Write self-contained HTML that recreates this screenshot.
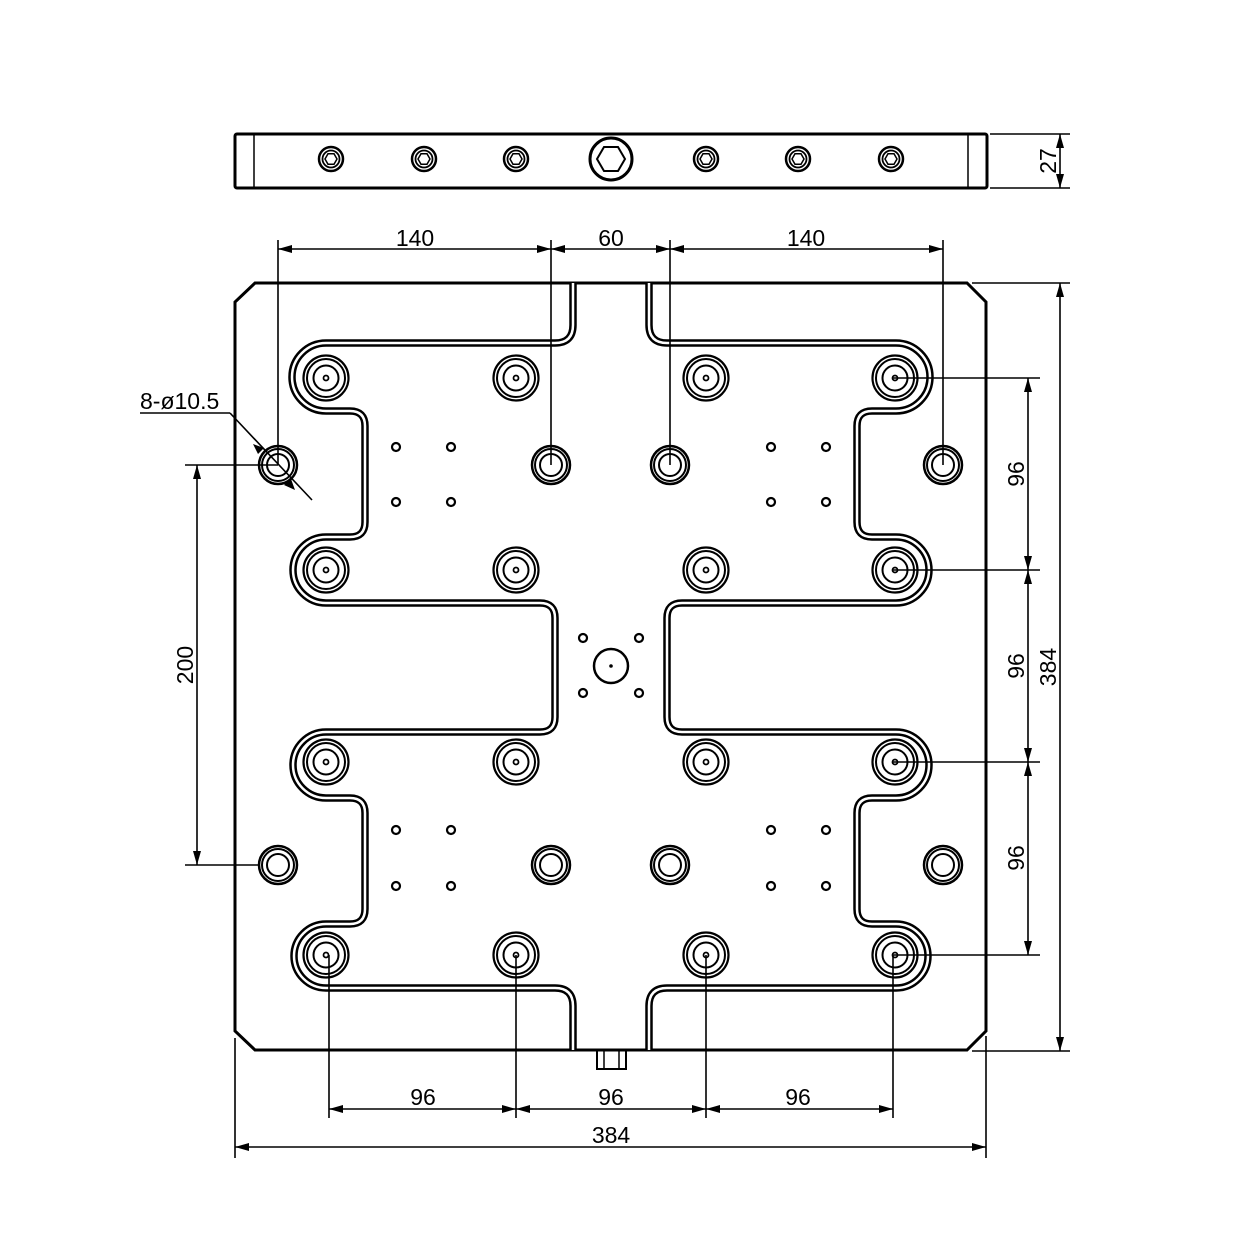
<!DOCTYPE html>
<html><head><meta charset="utf-8"><style>body{margin:0;background:#fff}svg{display:block}text{font-family:"Liberation Sans",sans-serif;font-size:23px;fill:#000}</style></head>
<body>
<svg width="1250" height="1250" viewBox="0 0 1250 1250" xmlns="http://www.w3.org/2000/svg">
<defs>
<marker id="a" viewBox="0 0 14 8" refX="14" refY="4" markerWidth="14" markerHeight="8" markerUnits="userSpaceOnUse" orient="auto-start-reverse"><path d="M0,0L14,4L0,8z" fill="#000"/></marker>
<g id="pad"><circle r="22.5" fill="none" stroke="#000" stroke-width="2.2"/><circle r="19" fill="none" stroke="#000" stroke-width="2"/><circle r="12.5" fill="none" stroke="#000" stroke-width="2"/><circle r="2.5" fill="none" stroke="#000" stroke-width="1.8"/></g>
<g id="loc"><circle r="19" fill="none" stroke="#000" stroke-width="2.5"/><circle r="16" fill="none" stroke="#000" stroke-width="2"/><circle r="11" fill="none" stroke="#000" stroke-width="2"/></g>
<g id="sh"><circle r="4" fill="none" stroke="#000" stroke-width="2.2"/></g>
<g id="sv"><circle r="12" fill="none" stroke="#000" stroke-width="2.5"/><circle r="8.5" fill="none" stroke="#000" stroke-width="1.8"/><polygon points="-6,0 -3,-5.2 3,-5.2 6,0 3,5.2 -3,5.2" fill="none" stroke="#000" stroke-width="1.5"/></g>
<path id="gr" d="M573,283 V325 Q573,343 555,343 H326 A33,33 0 0 0 326,411 H350 Q365,411 365,426 V522 Q365,537 350,537 H326 A33,33 0 0 0 326,603 H540 Q555,603 555,618 V717 Q555,732 540,732 H326 A33,33 0 0 0 326,798 H350 Q365,798 365,813 V909 Q365,924 350,924 H326 A32,32 0 0 0 326,988 H555 Q573,988 573,1006 V1050" fill="none"/>
</defs>

<rect x="235" y="134" width="752" height="54" rx="2" fill="none" stroke="#000" stroke-width="3"/>
<line x1="254" y1="134" x2="254" y2="188" stroke="#000" stroke-width="1.5"/>
<line x1="968" y1="134" x2="968" y2="188" stroke="#000" stroke-width="1.5"/>
<use href="#sv" x="331" y="159"/><use href="#sv" x="424" y="159"/><use href="#sv" x="516" y="159"/>
<use href="#sv" x="706" y="159"/><use href="#sv" x="798" y="159"/><use href="#sv" x="891" y="159"/>
<circle cx="611" cy="159" r="21" fill="none" stroke="#000" stroke-width="3"/>
<polygon points="597,159 604,147 618,147 625,159 618,171 604,171" fill="none" stroke="#000" stroke-width="2"/>

<path d="M255,283 H967 L986,302 V1031 L967,1050 H255 L235,1031 V302 Z" fill="none" stroke="#000" stroke-width="3"/>
<g stroke="#000" stroke-width="7.5"><use href="#gr"/><use href="#gr" transform="translate(1222,0) scale(-1,1)"/></g>
<g stroke="#fff" stroke-width="2.5"><use href="#gr"/><use href="#gr" transform="translate(1222,0) scale(-1,1)"/></g>
<rect x="597" y="1050" width="29" height="19" fill="none" stroke="#000" stroke-width="2"/>
<line x1="604" y1="1050" x2="604" y2="1069" stroke="#000" stroke-width="1.5"/><line x1="619" y1="1050" x2="619" y2="1069" stroke="#000" stroke-width="1.5"/>

<g>
<use href="#pad" x="326" y="378"/><use href="#pad" x="516" y="378"/><use href="#pad" x="706" y="378"/><use href="#pad" x="895" y="378"/>
<use href="#pad" x="326" y="570"/><use href="#pad" x="516" y="570"/><use href="#pad" x="706" y="570"/><use href="#pad" x="895" y="570"/>
<use href="#pad" x="326" y="762"/><use href="#pad" x="516" y="762"/><use href="#pad" x="706" y="762"/><use href="#pad" x="895" y="762"/>
<use href="#pad" x="326" y="955"/><use href="#pad" x="516" y="955"/><use href="#pad" x="706" y="955"/><use href="#pad" x="895" y="955"/>
<use href="#loc" x="278" y="465"/><use href="#loc" x="551" y="465"/><use href="#loc" x="670" y="465"/><use href="#loc" x="943" y="465"/>
<use href="#loc" x="278" y="865"/><use href="#loc" x="551" y="865"/><use href="#loc" x="670" y="865"/><use href="#loc" x="943" y="865"/>
<use href="#sh" x="396" y="447"/><use href="#sh" x="451" y="447"/><use href="#sh" x="396" y="502"/><use href="#sh" x="451" y="502"/>
<use href="#sh" x="771" y="447"/><use href="#sh" x="826" y="447"/><use href="#sh" x="771" y="502"/><use href="#sh" x="826" y="502"/>
<use href="#sh" x="396" y="830"/><use href="#sh" x="451" y="830"/><use href="#sh" x="396" y="886"/><use href="#sh" x="451" y="886"/>
<use href="#sh" x="771" y="830"/><use href="#sh" x="826" y="830"/><use href="#sh" x="771" y="886"/><use href="#sh" x="826" y="886"/>
<use href="#sh" x="583" y="638"/><use href="#sh" x="639" y="638"/><use href="#sh" x="583" y="693"/><use href="#sh" x="639" y="693"/>
<circle cx="611" cy="666" r="17" fill="none" stroke="#000" stroke-width="2.5"/><circle cx="611" cy="666" r="1.8" fill="#000"/>
</g>

<g stroke="#000" stroke-width="1.6" fill="none">
<line x1="278" y1="240" x2="278" y2="465"/><line x1="551" y1="240" x2="551" y2="465"/><line x1="670" y1="240" x2="670" y2="465"/><line x1="943" y1="240" x2="943" y2="465"/>
<line x1="278" y1="249" x2="551" y2="249" marker-start="url(#a)" marker-end="url(#a)"/>
<line x1="551" y1="249" x2="670" y2="249" marker-start="url(#a)" marker-end="url(#a)"/>
<line x1="670" y1="249" x2="943" y2="249" marker-start="url(#a)" marker-end="url(#a)"/>
<line x1="990" y1="134" x2="1070" y2="134"/><line x1="990" y1="188" x2="1070" y2="188"/>
<line x1="1060" y1="134" x2="1060" y2="188" marker-start="url(#a)" marker-end="url(#a)"/>
<line x1="893" y1="378" x2="1040" y2="378"/><line x1="893" y1="570" x2="1040" y2="570"/><line x1="893" y1="762" x2="1040" y2="762"/><line x1="893" y1="955" x2="1040" y2="955"/>
<line x1="1028" y1="378" x2="1028" y2="570" marker-start="url(#a)" marker-end="url(#a)"/>
<line x1="1028" y1="570" x2="1028" y2="762" marker-start="url(#a)" marker-end="url(#a)"/>
<line x1="1028" y1="762" x2="1028" y2="955" marker-start="url(#a)" marker-end="url(#a)"/>
<line x1="972" y1="283" x2="1070" y2="283"/><line x1="972" y1="1051" x2="1070" y2="1051"/>
<line x1="1060" y1="283" x2="1060" y2="1051" marker-start="url(#a)" marker-end="url(#a)"/>
<line x1="185" y1="465" x2="278" y2="465"/><line x1="185" y1="865" x2="260" y2="865"/>
<line x1="197" y1="465" x2="197" y2="865" marker-start="url(#a)" marker-end="url(#a)"/>
<line x1="329" y1="955" x2="329" y2="1118"/><line x1="516" y1="955" x2="516" y2="1118"/><line x1="706" y1="955" x2="706" y2="1118"/><line x1="893" y1="955" x2="893" y2="1118"/>
<line x1="329" y1="1109" x2="516" y2="1109" marker-start="url(#a)" marker-end="url(#a)"/>
<line x1="516" y1="1109" x2="706" y2="1109" marker-start="url(#a)" marker-end="url(#a)"/>
<line x1="706" y1="1109" x2="893" y2="1109" marker-start="url(#a)" marker-end="url(#a)"/>
<line x1="235" y1="1038" x2="235" y2="1158"/><line x1="986" y1="1036" x2="986" y2="1158"/>
<line x1="235" y1="1147" x2="986" y2="1147" marker-start="url(#a)" marker-end="url(#a)"/>
<line x1="140" y1="413" x2="230" y2="413"/><line x1="230" y1="413" x2="312" y2="500"/>
</g>
<path d="M253,444 L264,448 L258,454Z M295,490 L291,479 L284,485Z" fill="#000"/>
<g text-anchor="middle">
<text x="415" y="246">140</text><text x="611" y="246">60</text><text x="806" y="246">140</text>
<text x="423" y="1105">96</text><text x="611" y="1105">96</text><text x="798" y="1105">96</text>
<text x="611" y="1143">384</text>
<text transform="translate(1024,474) rotate(-90)">96</text>
<text transform="translate(1024,666) rotate(-90)">96</text>
<text transform="translate(1024,858) rotate(-90)">96</text>
<text transform="translate(1056,667) rotate(-90)">384</text>
<text transform="translate(1056,161) rotate(-90)">27</text>
<text transform="translate(193,665) rotate(-90)">200</text>
</g>
<text x="140" y="409">8-ø10.5</text>
</svg>
</body></html>
